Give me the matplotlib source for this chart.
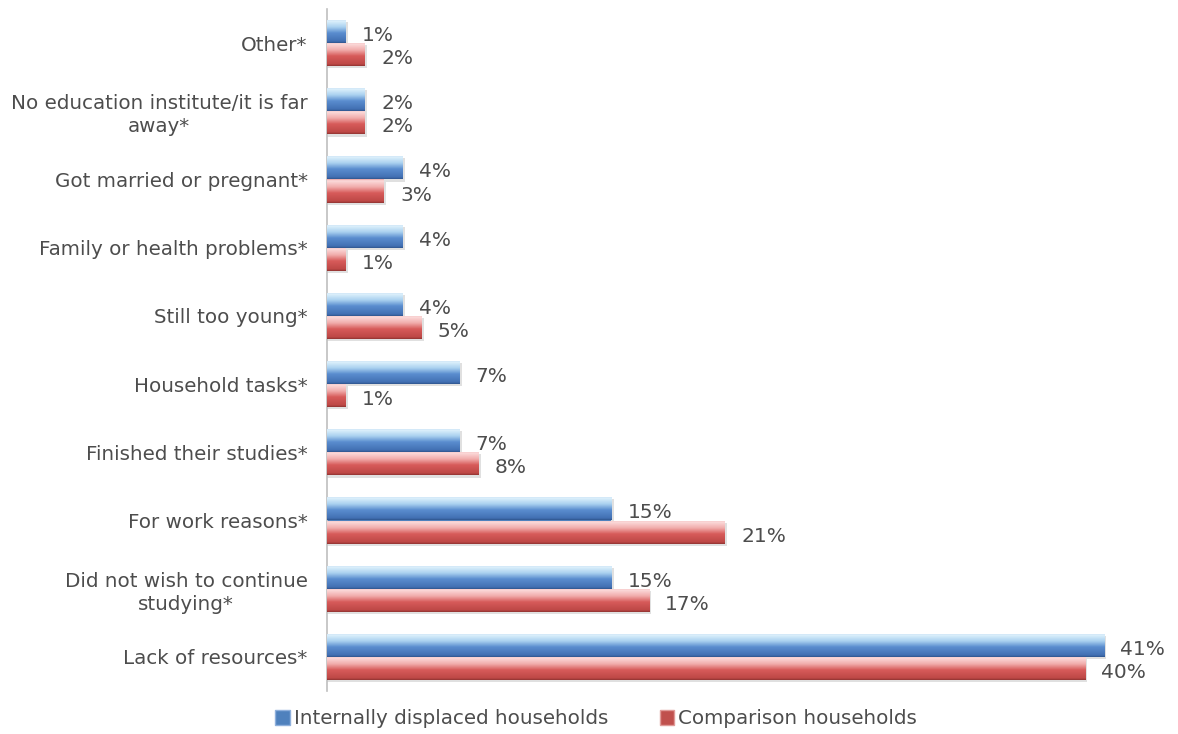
import matplotlib
matplotlib.use("Agg")
import matplotlib.pyplot as plt
import numpy as np
from matplotlib.colors import LinearSegmentedColormap
from matplotlib.patches import Patch

plt.rcParams['font.family'] = ['DejaVu Sans']

categories = [
    "Other*",
    "No education institute/it is far\naway*",
    "Got married or pregnant*",
    "Family or health problems*",
    "Still too young*",
    "Household tasks*",
    "Finished their studies*",
    "For work reasons*",
    "Did not wish to continue\nstudying*",
    "Lack of resources*",
]
displaced = [1, 2, 4, 4, 4, 7, 7, 15, 15, 41]
comparison = [2, 2, 3, 1, 5, 1, 8, 21, 17, 40]
series_names = ["Internally displaced households", "Comparison households"]

TEXT = "#4d4d4d"
FS = 14.3
FS_VAL = 14.5

# vertical shading for each bar: light top, saturated middle, darker bottom
blue_cmap = LinearSegmentedColormap.from_list(
    "blue_bar", [(0.0, "#a8c4e8"), (0.07, "#dff2fc"), (0.33, "#aad1f0"),
                 (0.58, "#5a8dcf"), (0.92, "#4270b3"), (1.0, "#2f558c")])
red_cmap = LinearSegmentedColormap.from_list(
    "red_bar", [(0.0, "#e8a0a0"), (0.07, "#fcdcdc"), (0.33, "#f1acab"),
                (0.58, "#d75b5a"), (0.92, "#be4846"), (1.0, "#8e3331")])

fig = plt.figure(figsize=(11.78, 7.34), dpi=100)
ax = fig.add_axes([327 / 1178, 1 - 691 / 734, (1123 - 327) / 1178, (691 - 9) / 734])

y = np.arange(len(categories))
h = 0.34
grad = np.linspace(0, 1, 256).reshape(-1, 1)


def shaded_bars(values, offset, cmap, color):
    bars = ax.barh(y + offset, values, height=h, color=color, edgecolor="none", zorder=2)
    for b in bars:
        x0, y0 = b.get_x(), b.get_y()
        w, hh = b.get_width(), b.get_height()
        # soft shadow under the bar
        ax.add_patch(plt.Rectangle((x0, y0 + 0.03), w + 0.12, hh, color="#000000",
                                   alpha=0.12, zorder=1, lw=0))
        im = ax.imshow(grad, cmap=cmap, aspect="auto", zorder=3,
                       extent=(x0, x0 + w, y0 + hh, y0), interpolation="bilinear")
        im.set_clip_path(b)
    return bars


shaded_bars(displaced, -h / 2, blue_cmap, "#4f81bd")
shaded_bars(comparison, h / 2, red_cmap, "#c0504d")

for i in range(len(categories)):
    ax.text(displaced[i] + 0.85, y[i] - h / 2 + 0.06, f"{displaced[i]}%",
            va="center", ha="left", fontsize=FS_VAL, color=TEXT)
    ax.text(comparison[i] + 0.85, y[i] + h / 2 + 0.06, f"{comparison[i]}%",
            va="center", ha="left", fontsize=FS_VAL, color=TEXT)

ax.set_xlim(0, 42)
ax.set_ylim(len(categories) - 0.5, -0.5)
ax.set_yticks(y)
ax.set_yticklabels(categories, fontsize=FS, color=TEXT, multialignment="center",
                   linespacing=1.28)
ax.tick_params(axis="y", length=0, pad=14)
ax.set_xticks([])
for s in ["top", "right", "bottom"]:
    ax.spines[s].set_visible(False)
ax.spines["left"].set_color("#bfbfbf")
ax.spines["left"].set_linewidth(1.2)

handles = [Patch(facecolor="#4f81bd", edgecolor="#8fb0dc"),
           Patch(facecolor="#c0504d", edgecolor="#e09a98")]
fig.legend(handles, series_names, loc="center", bbox_to_anchor=(596 / 1178, 1 - 719 / 734),
           ncol=2, frameon=False, fontsize=FS, handlelength=0.75, handleheight=0.75,
           handletextpad=0.2, columnspacing=2.6, labelcolor=TEXT)

fig.savefig("out.png", dpi=100)
